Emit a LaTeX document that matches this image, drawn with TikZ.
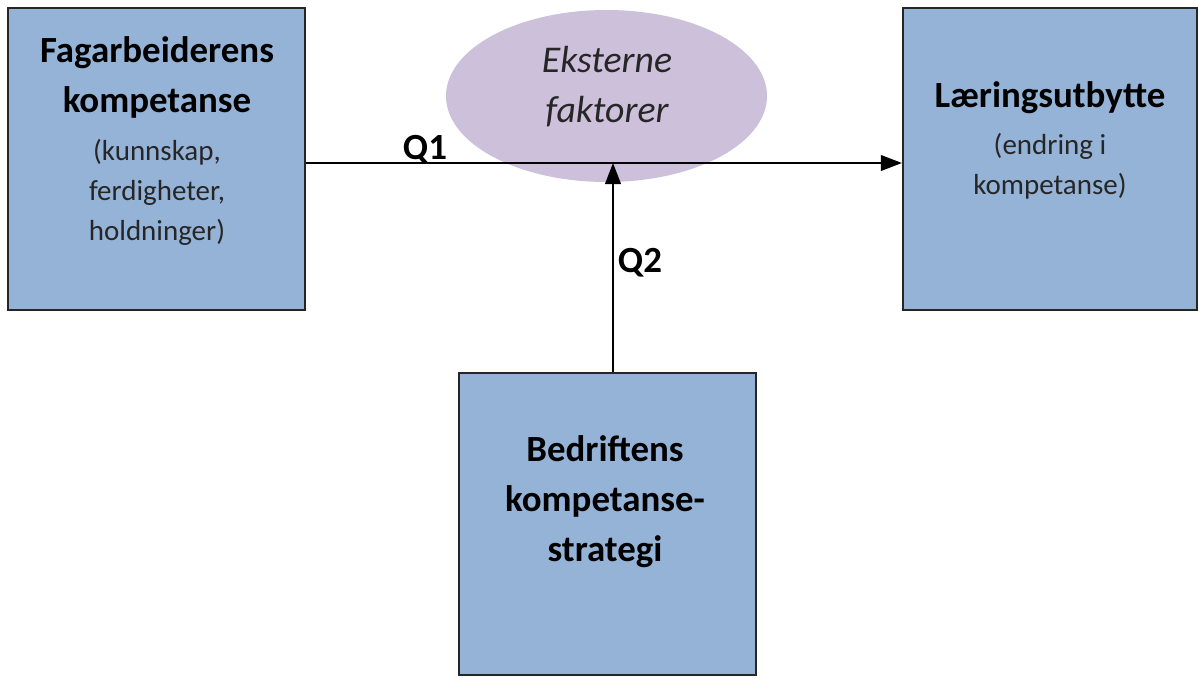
\documentclass[tikz,border=0pt]{standalone}
\usepackage{fontspec}
\setmainfont{Carlito}
\usetikzlibrary{positioning, shapes.geometric, arrows.meta}

\definecolor{boksblaa}{RGB}{149,179,215}
\definecolor{lilla}{RGB}{204,192,218}

\begin{document}
\begin{tikzpicture}[x=0.02cm, y=-0.02cm,
    boks/.style={draw=black!85, line width=1.3pt, fill=boksblaa, inner sep=0pt},
    tittel/.style={align=center, font=\bfseries\fontsize{21}{28.5}\selectfont},
    undertekst/.style={align=center, font=\fontsize{16.5}{22.8}\selectfont, text=black!85},
    pil/.style={line width=0.9pt, -{Triangle[length=12pt, width=9pt]}}]
    \useasboundingbox (0,0) rectangle (1198,677);

    % bokser
    \node[boks, minimum width=297*0.02cm, minimum height=302*0.02cm] (fag) at (156.5,159) {};
    \node[boks, minimum width=294*0.02cm, minimum height=302*0.02cm] (laering) at (1050,159) {};
    \node[boks, minimum width=297*0.02cm, minimum height=302*0.02cm] (bedrift) at (607.5,524) {};

    % ellipse
    \node[ellipse, fill=lilla, minimum width=321*0.02cm, minimum height=172*0.02cm, inner sep=0pt] (ytre) at (606.5,96) {};

    % tekster
    \node[tittel] (fagtittel) at (157,77) {Fagarbeiderens\\kompetanse};
    \node[undertekst] (fagtekst) at (157,192) {(kunnskap,\\ferdigheter,\\holdninger)};
    \node[tittel] (laeringtittel) at (1050,98) {Læringsutbytte};
    \node[undertekst] (laeringtekst) at (1050,166) {(endring i\\kompetanse)};
    \node[tittel] (bedrifttittel) at (605,502) {Bedriftens\\kompetanse-\\strategi};
    \node[align=center, font=\itshape\fontsize{21.5}{28.5}\selectfont, text=black!85] (ytretekst) at (607,87) {Eksterne\\faktorer};

    % piler
    \coordinate (kryss) at (613,163);
    \draw[pil] (fag.east |- kryss) -- (laering.west |- kryss);
    \draw[pil] (bedrift.north -| kryss) -- (kryss);

    % etiketter
    \node[tittel] (q1) at (425,150) {Q1};
    \node[tittel] (q2) at (640,263) {Q2};
\end{tikzpicture}
\end{document}
